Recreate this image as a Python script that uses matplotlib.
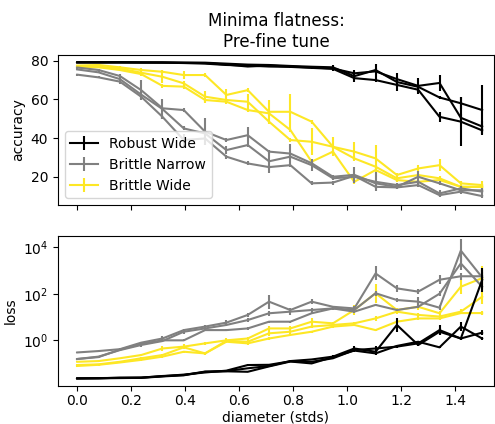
import numpy as np
import matplotlib
matplotlib.use("Agg")
import matplotlib.pyplot as plt

x = np.linspace(0, 1.5, 20)

labels = ["Robust Wide", "Brittle Narrow", "Brittle Wide"]
colors = ["black", "#808080", "#fde725"]

# ---- accuracy (top) ----
acc_rw = [
    [79.3,79.3,79.3,79.2,79.2,79.0,79.0,78.5,78.0,77.8,77.3,76.9,76.6,72.0,75.2,69.0,66.5,61.0,58.0,54.5],
    [79.2,79.2,79.2,79.1,79.0,79.0,78.8,78.0,77.0,77.5,77.0,76.5,76.0,73.5,74.5,70.5,67.0,68.5,50.5,46.0],
    [79.0,79.0,79.0,79.0,79.0,78.8,78.5,77.8,77.5,77.0,76.8,76.3,75.8,71.0,70.0,67.5,65.0,51.0,48.5,44.0],
]
acc_rw_err = [
    [0.3,0.3,0.3,0.3,0.3,0.3,0.3,0.3,0.5,0.5,0.5,0.5,1.0,3.0,1.0,4.5,1.0,1.0,3.0,13.0],
    [0.3,0.3,0.3,0.3,0.3,0.3,0.3,0.3,0.5,0.5,1.0,0.5,1.0,1.0,4.0,1.0,4.0,4.0,2.0,3.0],
    [0.3,0.3,0.3,0.3,0.3,0.3,0.3,0.3,0.5,0.5,0.5,0.5,1.0,1.0,1.0,1.0,1.0,2.5,12.5,2.0],
]
acc_bn = [
    [76.5,75.2,72.1,64.8,55.4,54.5,43.3,39.0,41.5,33.0,32.0,27.0,20.0,21.0,16.6,14.8,20.0,16.6,13.0,13.0],
    [75.5,74.0,70.5,62.5,55.0,45.0,42.4,33.8,36.4,28.0,30.4,26.0,19.2,20.0,17.4,15.7,17.4,11.4,14.0,12.3],
    [72.8,71.4,69.2,61.4,51.0,39.0,39.8,30.4,26.9,25.0,26.0,16.6,17.0,20.5,14.8,14.5,15.7,10.5,12.3,10.0],
]
acc_bn_err = [
    [0.5,0.5,1.0,5.0,1.0,1.0,7.0,1.0,4.0,1.0,5.0,1.0,1.0,4.0,1.0,1.0,3.0,1.0,2.0,1.0],
    [0.5,0.5,1.0,1.0,5.0,1.0,1.0,2.0,1.0,6.0,1.0,3.0,1.0,1.0,5.0,1.0,1.0,2.0,1.0,1.0],
    [0.5,0.5,1.0,1.0,1.0,3.0,1.0,1.0,1.0,1.0,1.0,1.0,1.0,1.0,1.0,1.0,1.0,1.0,1.0,1.0],
]
acc_bw = [
    [77.5,77.8,76.6,75.2,74.3,72.6,72.6,62.3,64.8,53.6,53.6,48.5,35.5,33.0,29.5,20.9,24.3,26.0,16.6,15.7],
    [77.0,76.9,76.0,73.8,71.7,68.3,61.4,59.7,58.8,48.5,39.0,38.1,35.5,29.5,25.2,19.2,20.9,19.2,14.8,14.8],
    [76.5,76.6,75.2,73.1,67.0,66.6,59.7,58.8,54.5,52.8,44.2,27.8,33.0,17.4,23.5,18.3,17.4,18.3,14.8,14.8],
]
acc_bw_err = [
    [0.5,0.5,0.5,1.0,1.0,2.0,1.0,3.0,1.0,6.0,9.0,1.0,1.0,5.0,7.0,1.0,2.0,3.0,1.0,2.0],
    [0.5,0.5,0.5,1.0,3.0,1.0,3.0,1.0,4.0,1.0,1.0,7.0,5.0,1.0,1.0,2.0,1.0,1.0,3.0,1.0],
    [0.5,0.5,0.5,1.0,1.0,1.0,1.0,1.0,1.0,1.0,1.0,1.0,1.0,1.0,1.0,1.0,1.0,1.0,1.0,1.0],
]

# ---- loss (bottom) ----
loss_rw = [
    [0.0234,0.0234,0.0251,0.0251,0.0295,0.0324,0.0457,0.0479,0.0631,0.0794,0.129,0.151,0.200,0.447,0.324,4.57,0.631,2.34,1.20,2.14],
    [0.0234,0.0240,0.0245,0.0251,0.0288,0.0339,0.0417,0.0501,0.0871,0.0891,0.126,0.120,0.170,0.380,0.447,0.537,0.741,2.75,1.20,389],
    [0.0229,0.0234,0.0240,0.0245,0.0282,0.0316,0.0447,0.0468,0.0447,0.0759,0.123,0.102,0.191,0.363,0.275,0.575,0.871,0.501,3.89,1.20],
]
loss_bn = [
    [0.302,0.347,0.417,0.794,1.20,2.75,3.89,5.75,12.3,45.7,20.0,45.7,27.5,23.4,741,170,123,398,562,562],
    [0.158,0.200,0.380,0.631,0.933,2.34,3.24,4.57,7.41,14.5,17.0,20.0,23.4,20.0,105,53.7,45.7,25.1,7080,501],
    [0.158,0.191,0.398,0.708,1.00,1.00,2.75,2.75,3.24,6.31,6.31,14.5,23.4,17.0,33.1,20.0,27.5,100,2000,200],
]
loss_bw = [
    [0.120,0.129,0.170,0.234,0.447,0.537,0.741,1.00,1.20,3.24,3.24,6.31,5.37,20.0,105,20.0,27.5,14.5,200,468],
    [0.0871,0.0933,0.120,0.170,0.234,0.501,0.275,0.955,0.871,2.00,2.34,3.89,4.57,5.37,8.71,17.0,12.3,10.5,17.0,74.1],
    [0.0794,0.0891,0.112,0.145,0.200,0.324,0.275,0.871,0.741,1.20,1.70,2.34,3.89,4.57,2.75,6.31,8.71,8.71,14.8,14.8],
]
# error half-widths in decades
loss_rw_err = [
    [0.03]*12 + [0.05,0.10,0.05,0.30,0.05,0.15,0.05,0.10],
    [0.03]*12 + [0.05,0.05,0.10,0.05,0.05,0.20,0.05,0.50],
    [0.03]*12 + [0.05,0.05,0.05,0.05,0.05,0.05,0.20,0.05],
]
loss_bn_err = [
    [0.03,0.03,0.05,0.05,0.10,0.05,0.05,0.10,0.10,0.30,0.10,0.10,0.05,0.10,0.30,0.15,0.10,0.20,0.15,0.20],
    [0.03,0.03,0.05,0.10,0.05,0.10,0.10,0.05,0.10,0.10,0.15,0.10,0.05,0.05,0.10,0.10,0.20,0.10,0.50,0.30],
    [0.03,0.03,0.05,0.05,0.05,0.05,0.05,0.05,0.05,0.05,0.05,0.05,0.05,0.05,0.05,0.05,0.05,0.10,0.30,0.10],
]
loss_bw_err = [
    [0.03,0.03,0.03,0.05,0.10,0.10,0.05,0.10,0.05,0.10,0.10,0.15,0.05,0.20,0.40,0.10,0.15,0.10,0.30,0.50],
    [0.03,0.03,0.03,0.05,0.05,0.05,0.05,0.05,0.10,0.10,0.10,0.05,0.10,0.05,0.10,0.10,0.10,0.10,0.10,0.30],
    [0.03,0.03,0.03,0.05,0.05,0.05,0.05,0.05,0.05,0.05,0.05,0.05,0.05,0.05,0.05,0.05,0.05,0.05,0.05,0.10],
]

fig = plt.figure(figsize=(4.95, 4.24), dpi=100)
ax1 = fig.add_axes([0.117, 0.5165, 0.881, 0.3535])
ax2 = fig.add_axes([0.117, 0.0896, 0.881, 0.3545], sharex=ax1)

acc_groups = [(acc_rw, acc_rw_err), (acc_bn, acc_bn_err), (acc_bw, acc_bw_err)]
loss_groups = [(loss_rw, loss_rw_err), (loss_bn, loss_bn_err), (loss_bw, loss_bw_err)]

for gi in [2, 1, 0]:
    vals, errs = acc_groups[gi]
    for li, (v, e) in enumerate(zip(vals, errs)):
        ax1.errorbar(x, v, yerr=e, color=colors[gi], lw=1.5, elinewidth=1.5,
                     label=labels[gi] if li == 0 else None, zorder=3 - gi * 0.1)
    vals, errs = loss_groups[gi]
    for v, e in zip(vals, errs):
        v = np.asarray(v)
        e = np.asarray(e)
        lo = v - v / 10 ** e
        hi = v * 10 ** e - v
        ax2.errorbar(x, v, yerr=[lo, hi], color=colors[gi], lw=1.5, elinewidth=1.5,
                     zorder=3 - gi * 0.1)

ax1.set_ylim(5.4, 82.9)
ax1.set_yticks([20, 40, 60, 80])
ax1.set_ylabel("accuracy")
ax1.set_title("Minima flatness:\nPre-fine tune", fontsize=12)
handles, labs = ax1.get_legend_handles_labels()
order = [labs.index(l) for l in labels]
ax1.legend([handles[i] for i in order], [labs[i] for i in order], loc="lower left")
plt.setp(ax1.get_xticklabels(), visible=False)

ax2.set_yscale("log")
ax2.set_ylim(10 ** -1.96, 10 ** 4.49)
ax2.set_yticks([1, 1e2, 1e4])
ax2.set_ylabel("loss")
ax2.set_xlim(-0.0715, 1.544)
ax2.set_xticks([0.0, 0.2, 0.4, 0.6, 0.8, 1.0, 1.2, 1.4])
ax2.tick_params(axis="x", pad=2.5)
ax2.set_xlabel("diameter (stds)", labelpad=1.5)

fig.savefig("out.png", dpi=100)
